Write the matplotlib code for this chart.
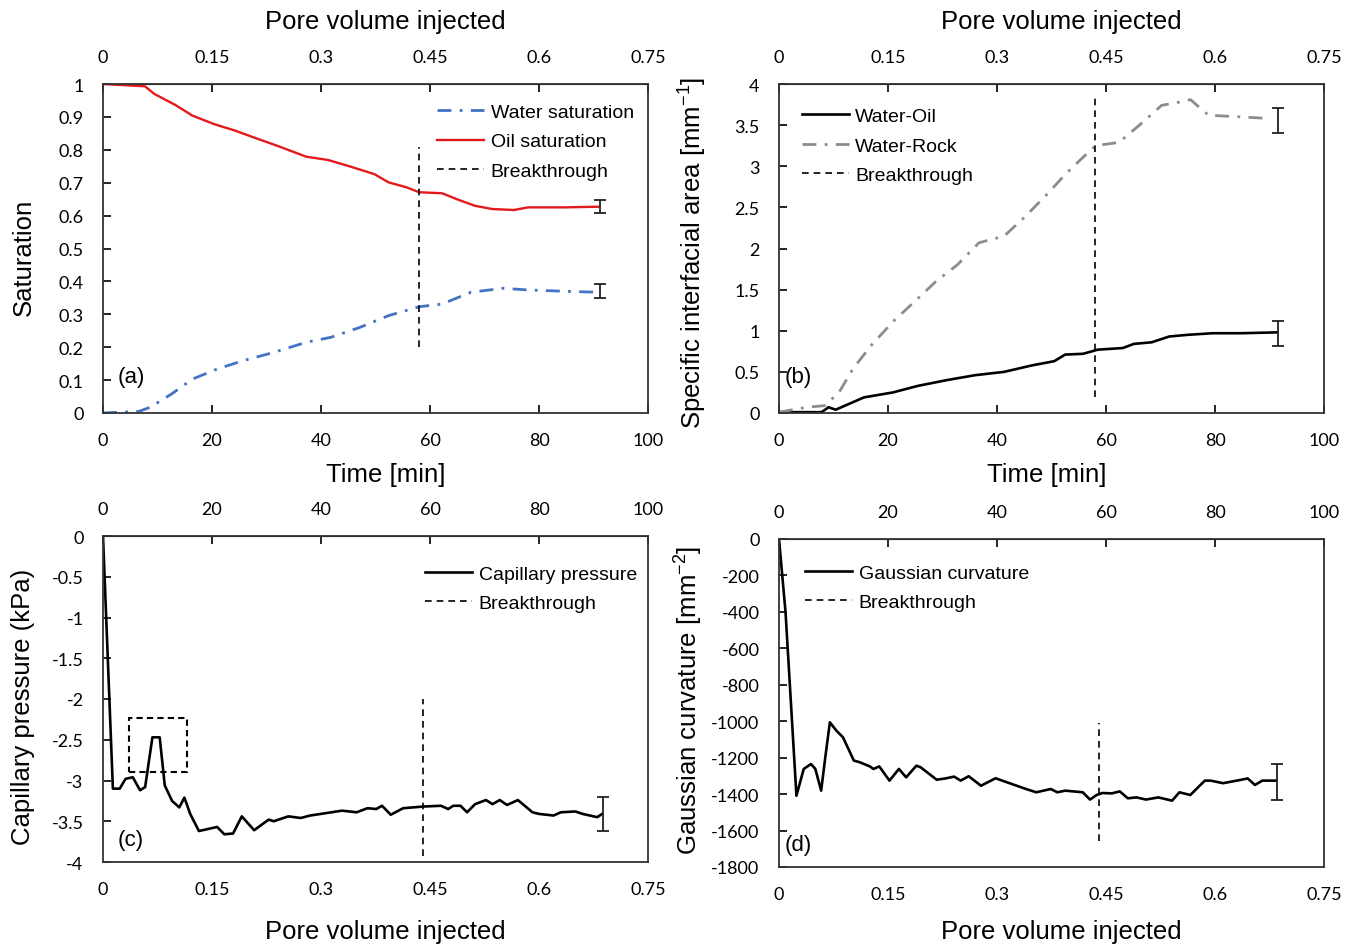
import matplotlib
matplotlib.use("Agg")
import matplotlib.pyplot as plt
from matplotlib.patches import Rectangle
from matplotlib.ticker import FuncFormatter

plt.rcParams["font.family"] = ["Liberation Sans", "DejaVu Sans"]
plt.rcParams["mathtext.default"] = "regular"
plt.rcParams["axes.unicode_minus"] = False

# ---- data ----
PV_PER_MIN = 0.75 / 100.0

# (a) saturation vs time [min]
time_oil = [0, 7.7, 9.4, 13.3, 16.4, 20.4, 24.3, 27.6, 32.0, 37.3, 41.3, 45.2,
            49.8, 52.4, 55.7, 58.0, 62.2, 64.9, 68.2, 71.4, 75.4, 78.0, 84.6, 90.9]
oil_sat = [1.0, 0.993, 0.970, 0.936, 0.904, 0.878, 0.858, 0.838, 0.812, 0.779,
           0.769, 0.750, 0.726, 0.701, 0.686, 0.671, 0.668, 0.650, 0.630, 0.620,
           0.617, 0.625, 0.625, 0.627]
time_water = [0, 6.6, 8.6, 12.6, 16.4, 21.0, 25.7, 31.3, 37.3, 41.8, 47.1, 52.4,
              58.0, 62.2, 67.5, 73.4, 78.0, 84.6, 90.9]
water_sat = [0.0, 0.005, 0.017, 0.058, 0.103, 0.134, 0.159, 0.184, 0.215, 0.230,
             0.260, 0.296, 0.323, 0.331, 0.367, 0.379, 0.374, 0.370, 0.367]
sat_err_time = 91.2
sat_err_center = [0.371, 0.628]   # water, oil
sat_err_half = [0.021, 0.020]

# (b) specific interfacial area vs time [min]
time_wo = [0, 7.8, 9.1, 10.4, 15.6, 20.9, 25.5, 30.8, 36.0, 41.3, 46.5, 50.5,
           52.5, 55.8, 58.5, 63.1, 65.1, 68.4, 71.6, 74.9, 79.6, 84.8, 91.3]
area_wo = [0.01, 0.01, 0.07, 0.04, 0.19, 0.25, 0.33, 0.40, 0.46, 0.50, 0.58, 0.63,
           0.71, 0.72, 0.77, 0.79, 0.84, 0.86, 0.93, 0.95, 0.97, 0.97, 0.98]
time_wr = [0, 5.1, 8.4, 11.0, 13.6, 16.9, 20.9, 24.8, 28.8, 32.7, 36.7, 41.3,
           45.2, 49.2, 52.5, 55.8, 58.1, 62.4, 66.3, 70.2, 73.5, 75.5, 78.8,
           84.8, 90.0]
area_wr = [0.01, 0.07, 0.09, 0.25, 0.54, 0.82, 1.11, 1.35, 1.60, 1.80, 2.07, 2.15,
           2.39, 2.66, 2.90, 3.11, 3.25, 3.29, 3.51, 3.74, 3.78, 3.81, 3.62,
           3.60, 3.58]
area_err_time = 91.6
area_err_center = [0.97, 3.56]    # water-oil, water-rock
area_err_half = [0.15, 0.15]

# (c) capillary pressure vs pore volume injected
pv_pc = [0, 0.0136, 0.023, 0.031, 0.041, 0.051, 0.058, 0.068, 0.078, 0.085,
         0.095, 0.105, 0.112, 0.120, 0.132, 0.157, 0.167, 0.179, 0.191, 0.208,
         0.228, 0.235, 0.255, 0.272, 0.285, 0.307, 0.329, 0.349, 0.364, 0.376,
         0.384, 0.396, 0.413, 0.440, 0.465, 0.475, 0.482, 0.492, 0.501, 0.512,
         0.527, 0.536, 0.546, 0.556, 0.571, 0.591, 0.600, 0.620, 0.630, 0.650,
         0.660, 0.680, 0.687]
cap_pressure = [0, -3.10, -3.10, -2.98, -2.96, -3.12, -3.08, -2.47, -2.47, -3.06,
                -3.25, -3.33, -3.21, -3.41, -3.62, -3.57, -3.66, -3.65, -3.44,
                -3.61, -3.48, -3.50, -3.44, -3.46, -3.43, -3.40, -3.37, -3.39,
                -3.34, -3.35, -3.31, -3.42, -3.34, -3.32, -3.31, -3.35, -3.31,
                -3.31, -3.39, -3.29, -3.24, -3.29, -3.24, -3.30, -3.24, -3.39,
                -3.41, -3.43, -3.39, -3.38, -3.41, -3.45, -3.41]
pc_err_pv = 0.688
pc_err_center = -3.41
pc_err_half = 0.21
box_pv = [0.036, 0.116]
box_pc = [-2.90, -2.23]

# (d) Gaussian curvature vs pore volume injected
pv_gc = [0, 0.009, 0.024, 0.034, 0.044, 0.050, 0.058, 0.064, 0.070, 0.079,
         0.088, 0.103, 0.111, 0.125, 0.130, 0.138, 0.152, 0.165, 0.175, 0.189,
         0.195, 0.217, 0.229, 0.241, 0.250, 0.261, 0.278, 0.298, 0.320, 0.340,
         0.354, 0.374, 0.383, 0.394, 0.418, 0.428, 0.437, 0.445, 0.458, 0.469,
         0.480, 0.492, 0.505, 0.522, 0.541, 0.551, 0.566, 0.586, 0.594, 0.611,
         0.630, 0.645, 0.655, 0.665, 0.684]
gauss_curv = [0, -402, -1409, -1262, -1235, -1262, -1381, -1189, -1006, -1052,
              -1088, -1216, -1225, -1248, -1262, -1248, -1326, -1262, -1308,
              -1244, -1253, -1321, -1314, -1304, -1326, -1302, -1354, -1313,
              -1344, -1372, -1390, -1372, -1390, -1381, -1390, -1430, -1405,
              -1394, -1396, -1385, -1423, -1418, -1430, -1418, -1436, -1390,
              -1405, -1326, -1326, -1340, -1326, -1314, -1350, -1326, -1326]
gc_err_pv = 0.685
gc_err_center = -1335
gc_err_half = 100

# breakthrough markers
bt_time = 58.0
bt_pv = 0.440
bt_range_a = [0.20, 0.81]
bt_range_b = [0.19, 3.83]
bt_range_c = [-3.93, -2.0]
bt_range_d = [-1660, -1010]

pv_ticks = [0, 0.15, 0.3, 0.45, 0.6, 0.75]
time_ticks = [0, 20, 40, 60, 80, 100]

TICK_FONT = "Lato"
TICK_SIZE = 13
LABEL_SIZE = 18.5
LEG_SIZE = 14
PANEL_SIZE = 16
BT_STYLE = dict(color="black", lw=1.2, ls=(0, (4, 3)))
ERR_STYLE = dict(fmt="none", ecolor="#222222", elinewidth=1.3, capsize=4, capthick=1.3)


def fmt_g(v, pos):
    return f"{v:g}"


def style_ticks(axis_obj):
    for lab in axis_obj.get_ticklabels():
        lab.set_fontfamily(TICK_FONT)
        lab.set_fontsize(TICK_SIZE)


def base_style(ax, bottom_ticks=True):
    for s in ax.spines.values():
        s.set_linewidth(1.3)
        s.set_color("#333333")
    ax.tick_params(axis="both", direction="in", length=6, width=1.2, pad=14,
                   labelsize=TICK_SIZE, colors="black")
    if not bottom_ticks:
        ax.tick_params(axis="x", length=0)
    ax.yaxis.set_major_formatter(FuncFormatter(fmt_g))
    ax.xaxis.set_major_formatter(FuncFormatter(fmt_g))


def add_legend(ax, x, y):
    ax.legend(loc="upper left", bbox_to_anchor=(x, y), frameon=False,
              fontsize=LEG_SIZE, borderpad=0, borderaxespad=0,
              handlelength=2.4, handletextpad=0.35, labelspacing=0.62)


fig = plt.figure(figsize=(13.55, 9.45), dpi=100)
W = 545 / 1355
ax_a = fig.add_axes([103 / 1355, 1 - 414 / 945, W, 329 / 945])
ax_b = fig.add_axes([779 / 1355, 1 - 414 / 945, W, 329 / 945])
ax_c = fig.add_axes([103 / 1355, 1 - 863 / 945, W, 326 / 945])
ax_d = fig.add_axes([779 / 1355, 1 - 868 / 945, W, 328 / 945])

to_pv = (lambda t: t * PV_PER_MIN, lambda p: p / PV_PER_MIN)
to_time = (lambda p: p / PV_PER_MIN, lambda t: t * PV_PER_MIN)

# ---- (a) ----
ax = ax_a
ax.plot(time_water, water_sat, color="#4472c4", lw=2.0, ls=(0, (5, 3, 1, 3)),
        label="Water saturation")
ax.plot(time_oil, oil_sat, color="#e3191c", lw=1.7, label="Oil saturation")
ax.plot([bt_time, bt_time], bt_range_a, label="Breakthrough", **BT_STYLE)
ax.errorbar([sat_err_time] * 2, sat_err_center, yerr=sat_err_half, **ERR_STYLE)
ax.set_xlim(0, 100)
ax.set_ylim(0, 1)
ax.set_xticks(time_ticks)
ax.set_yticks([i / 10 for i in range(11)])
base_style(ax)
ax.set_xlabel("Time [min]", fontsize=LABEL_SIZE)
ax.xaxis.set_label_coords(0.519, -0.150)
ax.set_ylabel("Saturation", fontsize=LABEL_SIZE)
ax.yaxis.set_label_coords(-0.123, 0.477)
ax.text(0.026, 0.11, "(a)", transform=ax.transAxes, fontsize=PANEL_SIZE, va="center")
add_legend(ax, 0.613, 0.942)

# ---- (b) ----
ax = ax_b
ax.plot(time_wo, area_wo, color="black", lw=1.9, label="Water-Oil")
ax.plot(time_wr, area_wr, color="#8c8c8c", lw=2.0, ls=(0, (5, 3, 1, 3)),
        label="Water-Rock")
ax.plot([bt_time, bt_time], bt_range_b, label="Breakthrough", **BT_STYLE)
ax.errorbar([area_err_time] * 2, area_err_center, yerr=area_err_half, **ERR_STYLE)
ax.set_xlim(0, 100)
ax.set_ylim(0, 4)
ax.set_xticks(time_ticks)
ax.set_yticks([i / 2 for i in range(9)])
base_style(ax)
ax.set_xlabel("Time [min]", fontsize=LABEL_SIZE)
ax.xaxis.set_label_coords(0.492, -0.150)
ax.set_ylabel("Specific interfacial area [mm$^{-1}$]", fontsize=LABEL_SIZE)
ax.yaxis.set_label_coords(-0.129, 0.49)
ax.text(0.010, 0.11, "(b)", transform=ax.transAxes, fontsize=PANEL_SIZE, va="center")
add_legend(ax, 0.042, 0.929)

for ax in (ax_a, ax_b):
    top = ax.secondary_xaxis("top", functions=to_pv)
    top.set_xticks(pv_ticks)
    top.xaxis.set_major_formatter(FuncFormatter(fmt_g))
    top.tick_params(direction="in", length=6, width=1.2, pad=14)
    top.set_xlabel("Pore volume injected", fontsize=LABEL_SIZE, labelpad=15)
    top.xaxis.label.set_x(0.518)
    style_ticks(top.xaxis)

# ---- (c) ----
ax = ax_c
ax.plot(pv_pc, cap_pressure, color="black", lw=1.9, label="Capillary pressure")
ax.plot([bt_pv, bt_pv], bt_range_c, label="Breakthrough", **BT_STYLE)
ax.errorbar([pc_err_pv], [pc_err_center], yerr=pc_err_half, **ERR_STYLE)
ax.add_patch(Rectangle((box_pv[0], box_pc[0]), box_pv[1] - box_pv[0],
                       box_pc[1] - box_pc[0], fill=False, ec="black", lw=1.5,
                       ls=(0, (3, 2))))
ax.set_xlim(0, 0.75)
ax.set_ylim(-4, 0)
ax.set_xticks(pv_ticks)
ax.set_yticks([-i / 2 for i in range(9)])
base_style(ax, bottom_ticks=False)
ax.set_xlabel("Pore volume injected", fontsize=LABEL_SIZE)
ax.xaxis.set_label_coords(0.518, -0.175)
ax.set_ylabel("Capillary pressure (kPa)", fontsize=LABEL_SIZE)
ax.yaxis.set_label_coords(-0.124, 0.478)
ax.text(0.026, 0.07, "(c)", transform=ax.transAxes, fontsize=PANEL_SIZE, va="center")
add_legend(ax, 0.591, 0.911)

# ---- (d) ----
ax = ax_d
ax.plot(pv_gc, gauss_curv, color="black", lw=1.9, label="Gaussian curvature")
ax.plot([bt_pv, bt_pv], bt_range_d, label="Breakthrough", **BT_STYLE)
ax.errorbar([gc_err_pv], [gc_err_center], yerr=gc_err_half, **ERR_STYLE)
ax.set_xlim(0, 0.75)
ax.set_ylim(-1800, 0)
ax.set_xticks(pv_ticks)
ax.set_yticks(list(range(0, -1801, -200)))
base_style(ax, bottom_ticks=False)
ax.set_xlabel("Pore volume injected", fontsize=LABEL_SIZE)
ax.xaxis.set_label_coords(0.518, -0.158)
ax.set_ylabel("Gaussian curvature [mm$^{-2}$]", fontsize=LABEL_SIZE)
ax.yaxis.set_label_coords(-0.135, 0.512)
ax.text(0.010, 0.07, "(d)", transform=ax.transAxes, fontsize=PANEL_SIZE, va="center")
add_legend(ax, 0.048, 0.924)

for ax in (ax_c, ax_d):
    top = ax.secondary_xaxis("top", functions=to_time)
    top.set_xticks(time_ticks)
    top.xaxis.set_major_formatter(FuncFormatter(fmt_g))
    top.tick_params(direction="in", length=6, width=1.2, pad=14)
    style_ticks(top.xaxis)

for ax in (ax_a, ax_b, ax_c, ax_d):
    style_ticks(ax.xaxis)
    style_ticks(ax.yaxis)

fig.savefig("out.png", dpi=100)
